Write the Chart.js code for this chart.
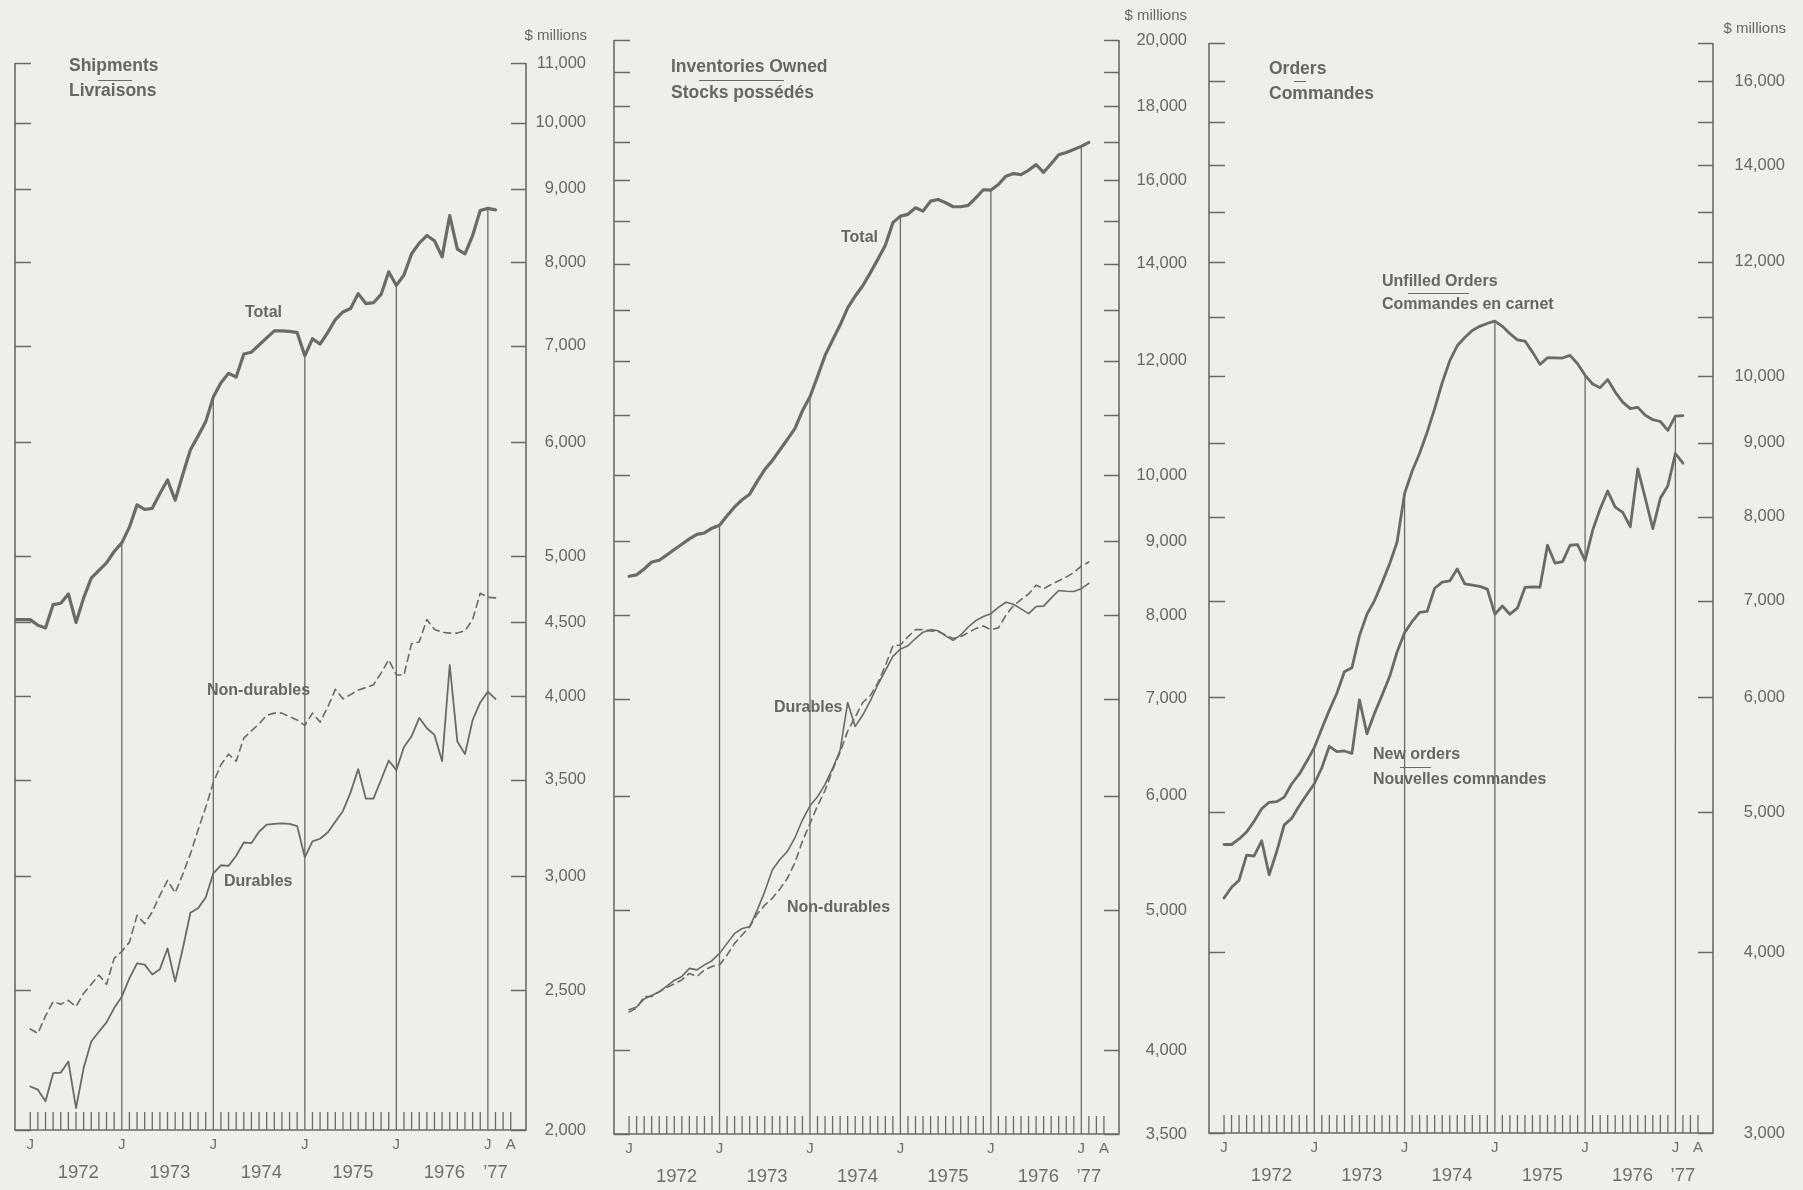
<!DOCTYPE html>
<html>
<head>
<meta charset="utf-8">
<script src="https://cdn.jsdelivr.net/npm/chart.js@4.4.1/dist/chart.umd.min.js"></script>
<style>
  html, body { margin: 0; padding: 0; background: #eeeeea; }
  #wrap { position: relative; width: 1803px; height: 1190px; overflow: hidden;
          font-family: "Liberation Sans", Arial, Helvetica, sans-serif; color: #666662; }
  .pane { position: absolute; left: 0; top: 0; width: 1803px; height: 1190px; }
  .t { position: absolute; white-space: nowrap; }
  .ul { position: absolute; border-top: 1.5px solid #6a6a66; height: 0; }
</style>
</head>
<body>
<div id="wrap">
  <div class="pane"><canvas id="c1"></canvas></div>
  <div class="pane"><canvas id="c2"></canvas></div>
  <div class="pane"><canvas id="c3"></canvas></div>
</div>
<script>
// months Nov 1971 .. Feb 1977 (Shipments total starts at the left axis)
const months = [];
for (let y = 1971, m = 10; months.length < 64; m++) {
  if (m === 12) { m = 0; y++; }
  months.push(y + '-' + String(m + 1).padStart(2, '0'));
}

// ---- Shipments / Livraisons
const shipTotal = [4520, 4520,
  4520, 4480, 4460, 4630, 4640, 4710, 4500, 4680, 4830, 4890, 4950, 5040,
  5110, 5240, 5430, 5390, 5400, 5530, 5650, 5470, 5700, 5930, 6060, 6200,
  6450, 6600, 6700, 6660, 6910, 6930, 7010, 7090, 7170, 7170, 7165, 7150,
  6890, 7080, 7020, 7150, 7300, 7390, 7430, 7610, 7490, 7500, 7600, 7880,
  7710, 7840, 8110, 8250, 8350, 8280, 8070, 8620, 8170, 8110, 8350, 8690,
  8720, 8700];
const shipDurables = [null, null,
  2144, 2133, 2094, 2190, 2192, 2231, 2071, 2208, 2304, 2340, 2375, 2430,
  2475, 2548, 2610, 2605, 2564, 2586, 2673, 2535, 2673, 2830, 2850, 2900,
  3014, 3053, 3050, 3100, 3166, 3163, 3221, 3258, 3262, 3264, 3262, 3250,
  3092, 3172, 3185, 3217, 3273, 3330, 3430, 3560, 3396, 3396, 3500, 3609,
  3554, 3688, 3752, 3864, 3800, 3760, 3605, 4204, 3720, 3646, 3850, 3960,
  4028, 3983];
const shipNonDurables = [null, null,
  2350, 2334, 2400, 2455, 2445, 2460, 2436, 2488, 2524, 2562, 2524, 2631,
  2660, 2700, 2818, 2781, 2834, 2910, 2980, 2921, 3010, 3109, 3230, 3348,
  3484, 3585, 3646, 3605, 3741, 3784, 3827, 3880, 3893, 3893, 3870, 3850,
  3817, 3893, 3838, 3930, 4044, 3983, 4010, 4040, 4055, 4074, 4150, 4240,
  4138, 4138, 4350, 4362, 4521, 4450, 4430, 4424, 4424, 4440, 4520, 4715,
  4684, 4680];

// ---- Inventories Owned / Stocks possédés
const invTotal = [null, null,
  8511, 8530, 8610, 8707, 8731, 8805, 8881, 8956, 9033, 9099, 9119, 9188,
  9230, 9372, 9505, 9614, 9700, 9900, 10088, 10233, 10408, 10586, 10768, 11078,
  11330, 11700, 12100, 12400, 12700, 13050, 13300, 13520, 13800, 14100, 14420, 14950,
  15107, 15150, 15309, 15228, 15471, 15513, 15431, 15334, 15334, 15366, 15555, 15755,
  15745, 15886, 16100, 16166, 16140, 16250, 16398, 16200, 16420, 16660, 16720, 16800,
  16882, 16990];
const invDurables = [null, null,
  4266, 4285, 4340, 4364, 4390, 4430, 4470, 4498, 4557, 4546, 4582, 4613,
  4667, 4742, 4818, 4856, 4869, 5000, 5150, 5330, 5420, 5490, 5611, 5772,
  5904, 5989, 6109, 6266, 6450, 6960, 6700, 6823, 6979, 7160, 7323, 7491,
  7578, 7619, 7707, 7786, 7817, 7804, 7740, 7685, 7751, 7850, 7930, 7983,
  8019, 8100, 8166, 8140, 8080, 8019, 8110, 8115, 8220, 8320, 8310, 8306,
  8344, 8414];
const invNonDurables = [null, null,
  4250, 4277, 4357, 4357, 4390, 4420, 4445, 4474, 4520, 4498, 4546, 4570,
  4582, 4655, 4742, 4806, 4869, 4970, 5040, 5095, 5170, 5260, 5392, 5580,
  5740, 5904, 6050, 6250, 6430, 6650, 6800, 6960, 7038, 7180, 7380, 7619,
  7629, 7729, 7817, 7817, 7800, 7795, 7750, 7707, 7729, 7780, 7830, 7862,
  7817, 7839, 8000, 8120, 8200, 8273, 8391, 8344, 8400, 8450, 8500, 8560,
  8650, 8707];

// ---- Orders / Commandes
const unfilledOrders = [null, null,
  4748, 4748, 4790, 4844, 4927, 5026, 5078, 5083, 5120, 5230, 5310, 5420,
  5540, 5710, 5880, 6040, 6250, 6290, 6620, 6850, 7000, 7200, 7420, 7680,
  8300, 8600, 8850, 9150, 9500, 9900, 10250, 10500, 10640, 10760, 10830, 10880,
  10921, 10830, 10704, 10600, 10579, 10395, 10194, 10303, 10300, 10297, 10341, 10205,
  10018, 9880, 9823, 9950, 9754, 9600, 9500, 9520, 9400, 9335, 9308, 9178,
  9389, 9395];
const newOrders = [null, null,
  4360, 4436, 4486, 4668, 4662, 4776, 4525, 4695, 4899, 4950, 5050, 5141,
  5230, 5365, 5551, 5504, 5510, 5489, 5977, 5663, 5850, 6020, 6200, 6450,
  6650, 6770, 6870, 6880, 7139, 7209, 7222, 7362, 7189, 7175, 7160, 7128,
  6850, 6940, 6850, 6916, 7148, 7155, 7150, 7644, 7429, 7447, 7644, 7651,
  7459, 7828, 8100, 8333, 8122, 8054, 7873, 8632, 8238, 7850, 8238, 8404,
  8846, 8710];

// ---- axis ticks
const shipTicks = [2000, 2500, 3000, 3500, 4000, 4500, 5000, 6000, 7000, 8000, 9000, 10000, 11000];
const shipLabels = shipTicks;
const invTicks = [3500, 4000, 5000, 6000, 7000, 8000, 9000, 10000, 11000, 12000, 13000, 14000,
                  15000, 16000, 17000, 18000, 19000, 20000];
const invLabels = [3500, 4000, 5000, 6000, 7000, 8000, 9000, 10000, 12000, 14000, 16000, 18000, 20000];
const ordTicks = [3000, 4000, 5000, 6000, 7000, 8000, 9000, 10000, 11000, 12000, 13000, 14000,
                  15000, 16000, 17000];
const ordLabels = [3000, 4000, 5000, 6000, 7000, 8000, 9000, 10000, 12000, 14000, 16000];
const yearLabels = ['1972', '1973', '1974', '1975', '1976', '\u201977'];

const INK = '#6a6a66';
const FONT = '"Liberation Sans", Arial, Helvetica, sans-serif';

const monthIdx = s => (Number(s.slice(0, 4)) - 1972) * 12 + Number(s.slice(5)) - 1;
const toPts = arr => months.map((m, k) => arr[k] == null ? null : { x: monthIdx(m), y: arr[k] }).filter(Boolean);

// axis frame, inner ticks, month ticks and January lines up to the top curve
const framePlugin = {
  id: 'frame',
  beforeDatasetsDraw(chart) {
    const a = chart.chartArea, c = chart.ctx;
    const xs = chart.scales.x, ys = chart.scales.y;
    const ticks = chart.options.plugins.frame.ticks;
    c.save();
    c.strokeStyle = INK;
    c.lineCap = 'butt';
    c.lineWidth = 1.6;
    c.beginPath();
    c.moveTo(a.left, a.top); c.lineTo(a.left, a.bottom); c.lineTo(a.right, a.bottom); c.lineTo(a.right, a.top);
    c.stroke();
    c.lineWidth = 1.5;
    c.beginPath();
    ticks.forEach(v => {
      const y = Math.round(ys.getPixelForValue(v)) + 0.5;
      c.moveTo(a.left, y); c.lineTo(a.left + 16, y);
      c.moveTo(a.right - 15, y); c.lineTo(a.right, y);
    });
    c.stroke();
    c.lineWidth = 1.3;
    c.beginPath();
    for (let m = 0; m <= 63; m++) {
      const x = xs.getPixelForValue(m);
      c.moveTo(x, a.bottom); c.lineTo(x, a.bottom - 18);
    }
    const ds = chart.data.datasets[0];
    const meta = chart.getDatasetMeta(0);
    ds.data.forEach((p, k) => {
      if (p.x > 0 && p.x % 12 === 0) {
        const el = meta.data[k];
        c.moveTo(el.x, a.bottom); c.lineTo(el.x, el.y);
      }
    });
    c.stroke();
    c.restore();
  }
};

function makePanel(id, g, ticks, labels, datasets) {
  return new Chart(document.getElementById(id), {
    type: 'line',
    data: { datasets },
    options: {
      animation: false,
      responsive: true,
      maintainAspectRatio: false,
      events: [],
      layout: { padding: { left: g.left, right: 1803 - g.right - g.w, top: g.top, bottom: 1190 - g.bottom - 56 } },
      elements: { point: { radius: 0 }, line: { tension: 0, borderJoinStyle: 'round', borderCapStyle: 'round' } },
      plugins: { legend: { display: false }, tooltip: { enabled: false }, frame: { ticks } },
      scales: {
        x: {
          type: 'linear', min: -2, max: 65, position: 'bottom',
          grid: { display: false, drawTicks: false }, border: { display: false },
          afterBuildTicks: s => { s.ticks = Array.from({ length: 64 }, (_, m) => ({ value: m })); },
          afterFit: s => { s.height = 28; },
          ticks: {
            autoSkip: false, maxRotation: 0, padding: 6, color: '#6e6e6a',
            font: { family: FONT, size: 15 },
            callback: v => (v % 12 === 0 ? 'J' : (v === 63 ? 'A' : ''))
          }
        },
        x2: {
          type: 'linear', min: -2, max: 65, position: 'bottom',
          grid: { display: false, drawTicks: false }, border: { display: false },
          afterBuildTicks: s => { s.ticks = yearLabels.map((_, k) => ({ value: k < 5 ? k * 12 + 6.3 : 61 })); },
          afterFit: s => { s.height = 28; },
          ticks: {
            autoSkip: false, maxRotation: 0, padding: 4, color: '#6e6e6a',
            font: { family: FONT, size: 18.5 },
            callback: (v, k) => yearLabels[k]
          }
        },
        y: {
          type: 'logarithmic', position: 'right', min: ticks[0], max: ticks[ticks.length - 1],
          grid: { display: false, drawTicks: false }, border: { display: false },
          afterBuildTicks: s => { s.ticks = ticks.map(v => ({ value: v })); },
          afterFit: s => { s.width = g.w; },
          ticks: {
            autoSkip: false, crossAlign: 'far', padding: 0, color: '#666662',
            font: { family: FONT, size: 16.5 },
            callback: v => (labels.includes(v) ? v.toLocaleString('en-US') : '')
          }
        }
      }
    },
    plugins: [framePlugin]
  });
}

const solid = (data, w) => ({ data: toPts(data), borderColor: INK, borderWidth: w, fill: false });
const dashed = (data, w) => ({ data: toPts(data), borderColor: INK, borderWidth: w, borderDash: [7, 5], fill: false });

makePanel('c1', { left: 15, right: 526, top: 63, bottom: 1130, w: 60 }, shipTicks, shipLabels,
  [solid(shipTotal, 3.2), solid(shipDurables, 1.8), dashed(shipNonDurables, 1.6)]);
makePanel('c2', { left: 614, right: 1119, top: 40, bottom: 1134, w: 68 }, invTicks, invLabels,
  [solid(invTotal, 3.2), solid(invDurables, 1.6), dashed(invNonDurables, 1.6)]);
makePanel('c3', { left: 1209, right: 1713, top: 43, bottom: 1133, w: 72 }, ordTicks, ordLabels,
  [solid(unfilledOrders, 2.8), solid(newOrders, 2.8)]);

// text labels: [text, left, centreY, size, bold, alignRight]
const texts = [
  ['$ millions', 587, 35, 15, false, true],
  ['$ millions', 1187, 15, 15, false, true],
  ['$ millions', 1786, 28, 15, false, true],
  ['Shipments', 69, 67, 17.5, true], ['Livraisons', 69, 92, 17.5, true],
  ['Inventories Owned', 671, 68, 17.5, true], ['Stocks possédés', 671, 94, 17.5, true],
  ['Orders', 1269, 70, 17.5, true], ['Commandes', 1269, 95, 17.5, true],
  ['Total', 245, 313, 16, true], ['Non-durables', 207, 691, 16, true], ['Durables', 224, 882, 16, true],
  ['Total', 841, 238, 16, true], ['Durables', 774, 708, 16, true], ['Non-durables', 787, 908, 16, true],
  ['Unfilled Orders', 1382, 282, 16, true], ['Commandes en carnet', 1382, 305, 16, true],
  ['New orders', 1373, 755, 16, true], ['Nouvelles commandes', 1373, 780, 16, true]
];
const underlines = [[98, 132, 80], [699, 784, 80], [1294, 1306, 81], [1408, 1469, 293], [1400, 1431, 767]];
const wrap = document.getElementById('wrap');
texts.forEach(([s, x, cy, size, bold, right]) => {
  const d = document.createElement('div');
  d.className = 't';
  d.textContent = s;
  d.style.fontSize = size + 'px';
  d.style.lineHeight = size + 'px';
  d.style.top = (cy - size * 0.55) + 'px';
  d.style.fontWeight = bold ? 'bold' : 'normal';
  if (right) d.style.right = (1803 - x) + 'px'; else d.style.left = x + 'px';
  wrap.appendChild(d);
});
underlines.forEach(([x1, x2, y]) => {
  const d = document.createElement('div');
  d.className = 'ul';
  d.style.left = x1 + 'px'; d.style.width = (x2 - x1) + 'px'; d.style.top = y + 'px';
  wrap.appendChild(d);
});
</script>
</body>
</html>
